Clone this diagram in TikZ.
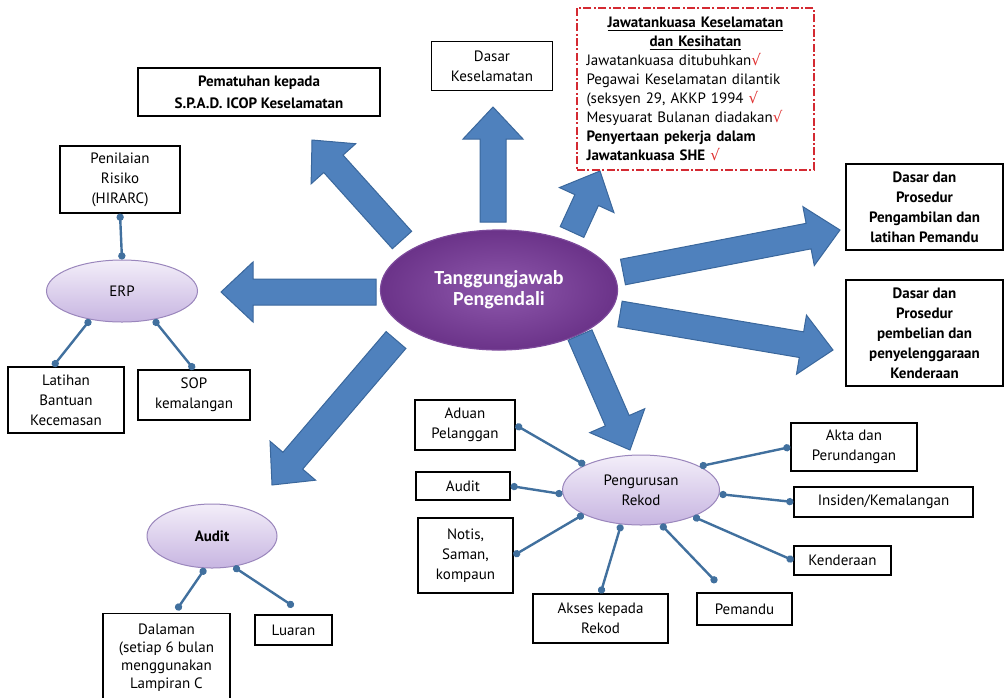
\documentclass[tikz,border=0pt]{standalone}
\usepackage{fontspec}
\setmainfont{PT Sans}
\newfontfamily\titlefont{Carlito}
\newfontfamily\symfont{DejaVu Sans}
\usetikzlibrary{shapes.geometric,arrows.meta,calc}

\definecolor{arrowfill}{HTML}{4F81BD}
\definecolor{arrowline}{HTML}{3A679C}
\definecolor{linkblue}{HTML}{41709E}
\definecolor{lavtop}{HTML}{F3EEF9}
\definecolor{lavbot}{HTML}{C7B5E1}
\definecolor{lavline}{HTML}{9A86BC}
\definecolor{purpin}{HTML}{8E58AC}
\definecolor{purpout}{HTML}{6B3389}
\definecolor{purpline}{HTML}{7D4A9B}
\definecolor{chkred}{HTML}{E03030}
\definecolor{dashred}{HTML}{D42A32}

% red tick after a line
\newcommand{\chk}{{\symfont\color{chkred}√}}

% fat arrow from #1 to #2
\newcommand{\blockarrow}[2]{%
	\filldraw[bigarrow] let \p1=#1, \p2=#2, \n1={atan2(\y2-\y1,\x2-\x1)} in
		($(\p1)+(\n1+90:6.5pt)$) -- ($(\p2)+(\n1+180:16pt)+(\n1+90:6.5pt)$)
		-- ($(\p2)+(\n1+180:16pt)+(\n1+90:15pt)$) -- (\p2)
		-- ($(\p2)+(\n1+180:16pt)+(\n1-90:15pt)$)
		-- ($(\p2)+(\n1+180:16pt)+(\n1-90:6.5pt)$)
		-- ($(\p1)+(\n1-90:6.5pt)$) -- cycle;}

\begin{document}
\begin{tikzpicture}[x=0.5pt,y=-0.5pt,
	txtbox/.style={draw=black, line width=0.6pt, fill=white, align=center, inner sep=1pt, font=\fontsize{7.5}{10}\selectfont},
	hub/.style={ellipse, draw=lavline, line width=0.5pt, top color=lavtop, bottom color=lavbot, inner sep=0pt, align=center, font=\fontsize{7.5}{10}\selectfont},
	rlink/.style={draw=linkblue, line width=1.2pt, {Circle[length=3.6pt]}-{Circle[length=3.6pt]}},
	bigarrow/.style={fill=arrowfill, draw=arrowline, line width=0.5pt, line join=miter}]
	\useasboundingbox (0,0) rectangle (1005,697);
	
	% Centre
	\node[ellipse, draw=purpline, line width=0.6pt, inner color=purpin, outer color=purpout, minimum width=118.5pt, minimum height=60pt, inner sep=0pt, text=white, align=center, font=\titlefont\bfseries\fontsize{10}{10.5}\selectfont] (tj) at (499,290) {Tanggungjawab\\Pengendali};
	
	% Draw the fat arrows
	\blockarrow{(493,222)}{(493,107)}
	\blockarrow{(572,232)}{(600,171)}
	\blockarrow{(402,240)}{(312,140)}
	\blockarrow{(376,292)}{(221,292)}
	\blockarrow{(396,340)}{(272,485)}
	\blockarrow{(623,272)}{(840,230)}
	\blockarrow{(620,314)}{(833,350)}
	\blockarrow{(580,335)}{(630,450)}
	
	% Top boxes
	\node[txtbox, minimum width=121pt, minimum height=24pt, font=\bfseries\fontsize{7.5}{11}\selectfont] (spad) at (259,92) {Pematuhan kepada\\S.P.A.D. ICOP Keselamatan};
	\node[txtbox, minimum width=60.5pt, minimum height=24.5pt] (dasar) at (492,66) {Dasar\\Keselamatan};
	\node[txtbox, draw=dashred, line width=0.8pt, dash pattern=on 4pt off 1.2pt on 1pt off 1.2pt, align=left, text width=109pt, inner xsep=4.75pt, minimum height=81pt, font=\fontsize{7.5}{9.5}\selectfont] (jk) at (695.5,89)
		{{\centering\bfseries\underline{Jawatankuasa Keselamatan}\\\underline{dan Kesihatan}\par}
		Jawatankuasa ditubuhkan\chk\\
		Pegawai Keselamatan dilantik\\
		(seksyen 29, AKKP 1994 \chk\\
		Mesyuarat Bulanan diadakan\chk\\
		\textbf{Penyertaan pekerja dalam}\\
		\textbf{Jawatankuasa SHE} \chk};
	
	% Right boxes
	\node[txtbox, minimum width=78.5pt, minimum height=43pt, font=\bfseries\fontsize{7.5}{10}\selectfont] (ambil) at (924.5,207) {Dasar dan\\Prosedur\\Pengambilan dan\\latihan Pemandu};
	\node[txtbox, minimum width=78.5pt, minimum height=53pt, font=\bfseries\fontsize{7.5}{10}\selectfont] (beli) at (924.5,333) {Dasar dan\\Prosedur\\pembelian dan\\penyelenggaraan\\Kenderaan};
	
	% ERP
	\node[hub, minimum width=75.5pt, minimum height=31pt] (erp) at (122,291) {ERP};
	\node[txtbox, minimum width=60pt, minimum height=33.5pt] (hirarc) at (120,179.5) {Penilaian\\Risiko\\(HIRARC)};
	\node[txtbox, minimum width=58pt, minimum height=33pt] (latihan) at (66,400) {Latihan\\Bantuan\\Kecemasan};
	\node[txtbox, minimum width=56pt, minimum height=25pt] (sop) at (194,395) {SOP\\kemalangan};
	\draw[rlink] (hirarc.south) -- (erp.north);
	\draw[rlink] (erp.222) -- ([xshift=-6.5pt]latihan.north);
	\draw[rlink] (erp.318) -- (sop.north);
	
	% Audit
	\node[hub, minimum width=65pt, minimum height=32pt, font=\bfseries\fontsize{7.5}{10}\selectfont] (audit) at (212,536) {Audit};
	\node[txtbox, anchor=north, minimum width=63.5pt, minimum height=44pt, font=\fontsize{7.5}{9}\selectfont] (dalaman) at (166.5,613) {Dalaman\\(setiap 6 bulan\\menggunakan\\Lampiran C};
	\node[txtbox, minimum width=38.5pt, minimum height=15pt] (luaran) at (293.5,630) {Luaran};
	\draw[rlink] (audit.258) -- ([xshift=5pt,yshift=1.5pt]dalaman.north);
	\draw[rlink] (audit.305) -- ([yshift=4pt]luaran.north);
	
	% Records
	\node[hub, minimum width=78.5pt, minimum height=35pt] (rekod) at (641,490) {Pengurusan\\Rekod};
	\node[txtbox, minimum width=50pt, minimum height=25pt] (aduan) at (465,425) {Aduan\\Pelanggan};
	\node[txtbox, minimum width=47pt, minimum height=14pt] (audrek) at (463,486) {Audit};
	\node[txtbox, minimum width=47.5pt, minimum height=37.5pt] (notis) at (465.5,555.5) {Notis,\\Saman,\\kompaun};
	\node[txtbox, minimum width=67.5pt, minimum height=24.5pt] (akses) at (600.5,618.5) {Akses kepada\\Rekod};
	\node[txtbox, minimum width=47.5pt, minimum height=16pt] (pemandu) at (744.5,609) {Pemandu};
	\node[txtbox, minimum width=63pt, minimum height=24pt] (akta) at (854,447) {Akta dan\\Perundangan};
	\node[txtbox, minimum width=89.5pt, minimum height=15pt] (insiden) at (883.5,502) {Insiden/Kemalangan};
	\node[txtbox, minimum width=48.5pt, minimum height=14.5pt] (kenderaan) at (842.5,560.5) {Kenderaan};
	\draw[rlink] (rekod.156) -- (aduan.east);
	\draw[rlink] (rekod.183) -- (audrek.east);
	\draw[rlink] (rekod.203) -- (notis.east);
	\draw[rlink] (rekod.240) -- (akses.north);
	\draw[rlink] (rekod.300) -- ([xshift=-14pt,yshift=5pt]pemandu.north);
	\draw[rlink] (rekod.22) -- (akta.west);
	\draw[rlink] (rekod.357) -- (insiden.west);
	\draw[rlink] (rekod.333) -- (kenderaan.west);
\end{tikzpicture}
\end{document}
